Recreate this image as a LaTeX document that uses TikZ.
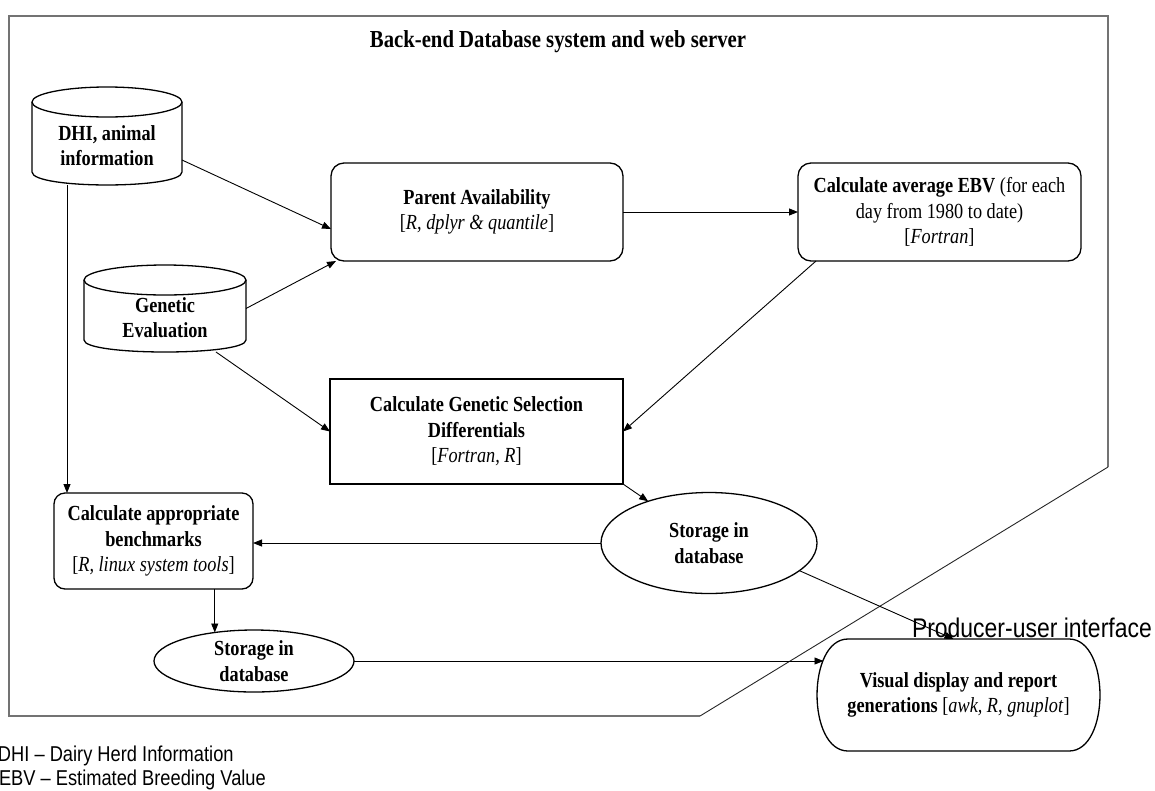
\documentclass[tikz,border=0pt]{standalone}
\usepackage{fontspec}
\setmainfont{Liberation Serif}[FakeStretch=0.85]
\newfontfamily\arialc{Liberation Sans}[FakeStretch=0.85]
\usetikzlibrary{arrows.meta,shapes.geometric}
\newcommand{\bodyfont}{\fontsize{21.5}{25.5}\selectfont}
\begin{document}
\begin{tikzpicture}[x=1pt,y=-1pt,
  every node/.style={inner sep=0pt, outer sep=0pt},
  shp/.style={draw, line width=1.3pt},
  rbox/.style={shp, rectangle, rounded corners=13pt, align=center, font=\bodyfont},
  sbox/.style={shp, rectangle, align=center, font=\bodyfont},
  ell/.style={shp, ellipse, align=center, font=\bodyfont},
  ghost/.style={rectangle, align=center, font=\bodyfont},
  txt/.style={align=center, font=\bodyfont},
  arr/.style={-{Triangle[length=9pt,width=7pt]}, line width=0.9pt},
  ln/.style={line width=0.9pt},
  frame/.style={draw=black!55, line width=1.4pt},
  framediag/.style={draw=black!85, line width=0.9pt}]
\useasboundingbox (0,0) rectangle (1155,790);

% outer frame
\draw[frame, line join=miter] (1108,467) -- (1108,16) -- (9,16) -- (9,716) -- (700,716);
\draw[framediag] (700,716) -- (1108,467);

% title
\node[anchor=base, font=\fontsize{24.4}{28}\selectfont\bfseries] (title) at (558,47) {Back-end Database system and web server};

% cylinders
\node[ghost, minimum width=150pt, minimum height=98pt] (dhi) at (107,136) {};
\draw[shp] (32,102) -- (32,172) .. controls (32,189.3) and (182,189.3) .. (182,172) -- (182,102);
\draw[shp] (107,102) ellipse [x radius=75pt, y radius=15pt];
\node[txt] (dhit) at (107,145.5) {\textbf{DHI, animal}\\\textbf{information}};

\node[ghost, minimum width=162pt, minimum height=87pt] (gen) at (165,308.5) {};
\draw[shp] (84,280) -- (84,340) .. controls (84,356) and (246,356) .. (246,340) -- (246,280);
\draw[shp] (165,280) ellipse [x radius=81pt, y radius=15pt];
\node[txt] (gent) at (165,317.5) {\textbf{Genetic}\\\textbf{Evaluation}};

% process boxes
\node[rbox, minimum width=292pt, minimum height=98pt] (par) at (477,212)
  {\textbf{Parent Availability}\\{[}\textit{R, dplyr \& quantile}{]}};
\node[rbox, minimum width=283pt, minimum height=98pt] (ebv) at (939.5,212)
  {\textbf{Calculate average EBV} (for each\\day from 1980 to date)\\{[}\textit{Fortran}{]}};
\node[sbox, minimum width=293pt, minimum height=105pt] (gs) at (476.5,431.5)
  {\textbf{Calculate Genetic Selection}\\\textbf{Differentials}\\{[}\textit{Fortran, R}{]}};
\node[rbox, rounded corners=11pt, minimum width=199pt, minimum height=96pt] (bench) at (153.5,541)
  {\textbf{Calculate appropriate}\\\textbf{benchmarks}\\{[}\textit{R, linux system tools}{]}};

% storage ellipses
\node[ell, minimum width=216pt, minimum height=101pt] (st1) at (709,543) {\textbf{Storage in}\\\textbf{database}};
\node[ell, minimum width=200pt, minimum height=62pt] (st2) at (254,661) {\textbf{Storage in}\\\textbf{database}};

% visual display (stadium with elliptic ends)
\node[ghost, minimum width=283pt, minimum height=112pt] (vis) at (958.5,695)
  {\textbf{Visual display and report}\\\textbf{generations} {[}\textit{awk, R, gnuplot}{]}};
\draw[shp] (848,639) -- (1069,639) .. controls (1110.3,639) and (1110.3,751) .. (1069,751)
  -- (848,751) .. controls (806.7,751) and (806.7,639) .. (848,639) -- cycle;
\coordinate (visin) at ([xshift=6.5pt,yshift=34pt]vis.west);

% producer label
\node[anchor=base west, font=\arialc\fontsize{27}{30}\selectfont] (prod) at (912,637) {Producer-user interface};

% connectors
\draw[arr] ([yshift=-24pt]dhi.east) -- ([yshift=-17pt]par.west);
\draw[arr] (gen.east) -- ([xshift=5pt]par.south west);
\draw[arr] ([xshift=51pt]gen.south) -- (gs.west);
\draw[arr] ([xshift=-40pt]dhi.south) -- ([xshift=-40pt]dhi.south |- bench.north);
\draw[arr] (par.east) -- (ebv.west);
\draw[arr] ([xshift=18pt]ebv.south west) -- (gs.east);
\draw[arr] (gs.south east) -- (st1);
\draw[arr] (st1.west) -- (st1.west -| bench.east);
\draw[arr] (bench.south -| st2.144) -- (st2.144);
\draw[arr] (st2.east) -- (visin);
\draw[arr] (st1.-17) -- ([xshift=-5pt]vis.north);

% footnotes
\node[anchor=base west, font=\arialc\fontsize{21.5}{24}\selectfont] (foot1) at (-2,761) {DHI – Dairy Herd Information};
\node[anchor=base west, font=\arialc\fontsize{21.5}{24}\selectfont] (foot2) at (-1,785) {EBV – Estimated Breeding Value};
\end{tikzpicture}
\end{document}
